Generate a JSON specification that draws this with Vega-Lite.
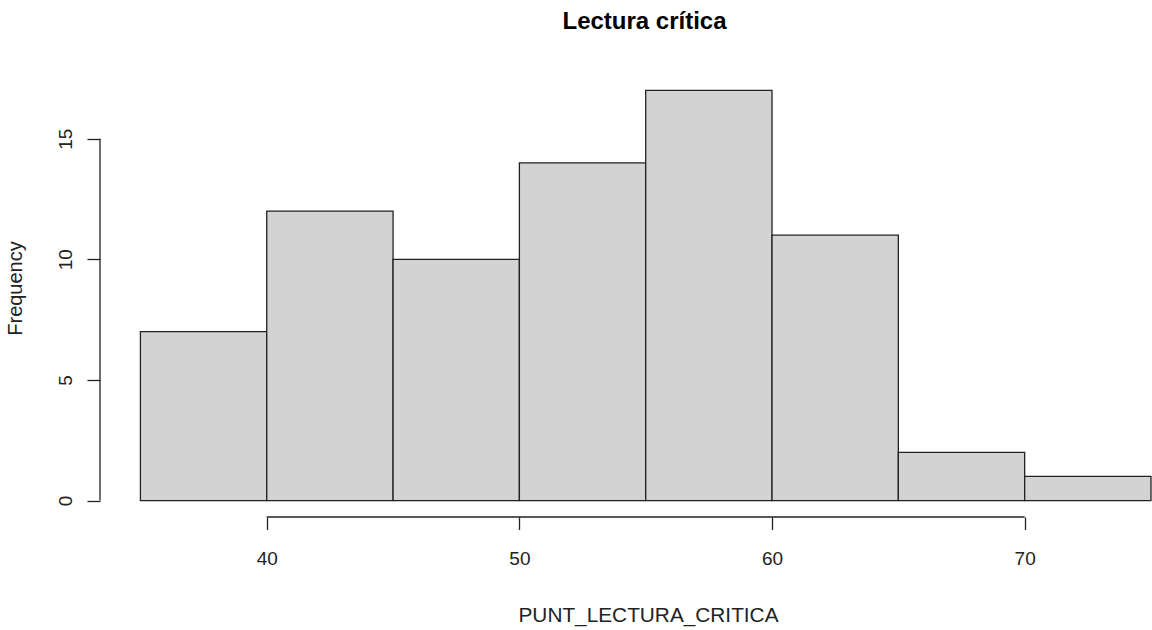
{
  "$schema": "https://vega.github.io/schema/vega-lite/v6.json",
  "width": 1052,
  "height": 443,
  "autosize": {"type": "none"},
  "padding": {"left": 100, "top": 74, "right": 0, "bottom": 113},
  "background": "white",
  "title": {
    "text": "Lectura crítica",
    "font": "Liberation Sans",
    "fontSize": 24,
    "fontWeight": "bold",
    "color": "black",
    "anchor": "middle",
    "frame": "group",
    "dx": 18.5,
    "offset": 21,
    "baseline": "alphabetic"
  },
  "config": {"view": {"stroke": null}},
  "datasets": {
    "bins": [
      {"bin_start": 35, "bin_end": 40, "count": 7},
      {"bin_start": 40, "bin_end": 45, "count": 12},
      {"bin_start": 45, "bin_end": 50, "count": 10},
      {"bin_start": 50, "bin_end": 55, "count": 14},
      {"bin_start": 55, "bin_end": 60, "count": 17},
      {"bin_start": 60, "bin_end": 65, "count": 11},
      {"bin_start": 65, "bin_end": 70, "count": 2},
      {"bin_start": 70, "bin_end": 75, "count": 1}
    ],
    "xaxis": [{"x": 40, "x2": 70, "y": -0.68}],
    "yaxis": [{"x": 33.4, "y": 0, "y2": 15}]
  },
  "layer": [
    {
      "data": {"name": "bins"},
      "mark": {"type": "rect", "fill": "#D3D3D3", "stroke": "#222222", "strokeWidth": 1.3},
      "encoding": {
        "x": {
          "field": "bin_start",
          "type": "quantitative",
          "scale": {"domain": [33.4, 75.04], "nice": false, "zero": false},
          "axis": {
            "values": [40, 50, 60, 70],
            "domain": false,
            "grid": false,
            "ticks": true,
            "tickSize": 12.5,
            "tickColor": "#222222",
            "tickWidth": 1.3,
            "labelFont": "Liberation Sans",
            "labelFontSize": 19,
            "labelColor": "#222222",
            "labelBaseline": "alphabetic",
            "labelPadding": 35,
            "labelFlush": false,
            "title": "PUNT_LECTURA_CRITICA",
            "titleFont": "Liberation Sans",
            "titleFontSize": 20.8,
            "titleFontWeight": "normal",
            "titleColor": "#222222",
            "titleX": 548,
            "titleY": 104,
            "titleAlign": "center",
            "titleBaseline": "alphabetic"
          }
        },
        "x2": {"field": "bin_end"},
        "y": {
          "field": "count",
          "type": "quantitative",
          "scale": {"domain": [-0.68, 17.68], "nice": false, "zero": false},
          "axis": {
            "values": [0, 5, 10, 15],
            "domain": false,
            "grid": false,
            "ticks": true,
            "tickSize": 13,
            "tickColor": "#222222",
            "tickWidth": 1.3,
            "labelFont": "Liberation Sans",
            "labelFontSize": 19,
            "labelColor": "#222222",
            "labelAngle": 270,
            "labelAlign": "center",
            "labelBaseline": "alphabetic",
            "labelPadding": 15.5,
            "labelFlush": false,
            "title": "Frequency",
            "titleFont": "Liberation Sans",
            "titleFontSize": 20,
            "titleFontWeight": "normal",
            "titleColor": "#222222",
            "titleAngle": 270,
            "titleX": -78.5,
            "titleY": 214,
            "titleAlign": "center",
            "titleBaseline": "alphabetic"
          }
        },
        "y2": {"datum": 0}
      }
    },
    {
      "data": {"name": "xaxis"},
      "mark": {"type": "rule", "color": "#222222", "strokeWidth": 1.3},
      "encoding": {
        "x": {"field": "x", "type": "quantitative"},
        "x2": {"field": "x2"},
        "y": {"field": "y", "type": "quantitative"}
      }
    },
    {
      "data": {"name": "yaxis"},
      "mark": {"type": "rule", "color": "#222222", "strokeWidth": 1.3},
      "encoding": {
        "x": {"field": "x", "type": "quantitative"},
        "y": {"field": "y", "type": "quantitative"},
        "y2": {"field": "y2"}
      }
    }
  ]
}
